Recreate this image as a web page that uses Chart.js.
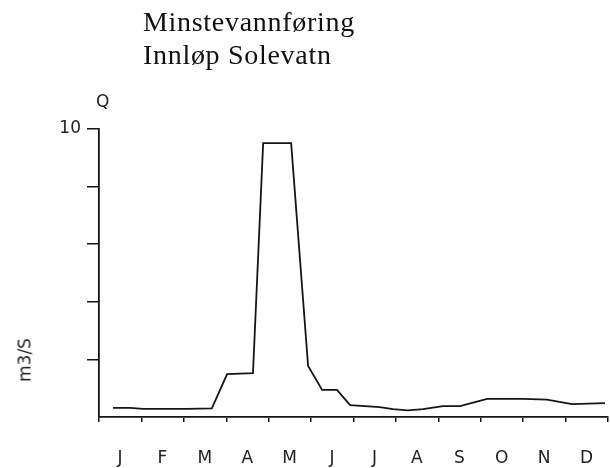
<!DOCTYPE html>
<html>
<head>
<meta charset="utf-8">
<script src="https://cdn.jsdelivr.net/npm/chart.js@4"></script>
<style>
  html, body { margin: 0; padding: 0; background: #fff; }
  #wrap { position: relative; width: 610px; height: 468px; }
  #chart { position: absolute; left: 0; top: 0; }
  .title { position: absolute; left: 143px; font-family: "Liberation Serif", serif; font-size: 28px; line-height: 28px; letter-spacing: 0.7px; color: #111; white-space: nowrap; }
  .lbl { position: absolute; font-family: "DejaVu Sans", sans-serif; font-size: 17px; line-height: 17px; color: #222; white-space: nowrap; }
</style>
</head>
<body>
<div id="wrap">
  <canvas id="chart" width="610" height="468"></canvas>
  <div class="title" style="top:8px">Minstevannføring</div>
  <div class="title" style="top:41px">Innløp Solevatn</div>
  <div class="lbl" style="left:96px; top:93px">Q</div>
  <div class="lbl" style="left:25px; top:360px; transform: translate(-50%, -50%) rotate(-90deg)">m3/S</div>
</div>
<script>
// month labels under the x axis
const months = ['J', 'F', 'M', 'A', 'M', 'J', 'J', 'A', 'S', 'O', 'N', 'D'];

// time position in months (0 = 1 Jan, 12 = 31 Dec) and flow in m3/s
const timeMonths = [0.33, 0.73, 1.04, 2.07, 2.66, 3.02, 3.63, 3.87, 4.53, 4.93, 5.26, 5.61, 5.92, 6.62, 6.93, 7.28, 7.64, 8.11, 8.51, 9.15, 9.99, 10.56, 11.15, 11.93];
const flow = [0.32, 0.32, 0.28, 0.28, 0.3, 1.49, 1.52, 9.51, 9.51, 1.77, 0.94, 0.94, 0.41, 0.34, 0.27, 0.23, 0.27, 0.38, 0.38, 0.63, 0.63, 0.6, 0.45, 0.48];

// y axis ticks, only the top one is labelled
const yTicks = [0, 2, 4, 6, 8, 10];
const yLabelled = [10];

const ink = '#151515';
const tickFont = { family: 'DejaVu Sans', size: 17 };

function renderChart() {
  const ctx = document.getElementById('chart');
  new Chart(ctx, {
    type: 'line',
    data: {
      datasets: [{
        data: timeMonths.map((t, i) => ({ x: t, y: flow[i] })),
        borderColor: ink,
        borderWidth: 1.8,
        pointRadius: 0,
        tension: 0,
        fill: false
      }]
    },
    options: {
      responsive: false,
      animation: false,
      layout: { padding: { top: 129, right: 2, left: 0, bottom: 0 } },
      plugins: { legend: { display: false }, tooltip: { enabled: false }, title: { display: false } },
      scales: {
        x: {
          type: 'linear',
          min: 0,
          max: 12,
          afterFit: s => { s.height = 51; s.paddingLeft = 0; s.paddingRight = 0; },
          afterBuildTicks: s => { s.ticks = months.map((m, i) => ({ value: i })).concat([{ value: 12 }]); },
          border: { color: ink, width: 1.8 },
          grid: { drawOnChartArea: false, color: ink, lineWidth: 1.5, tickLength: 5 },
          ticks: {
            color: '#222',
            font: tickFont,
            padding: 26,
            labelOffset: 21,
            maxRotation: 0,
            autoSkip: false,
            callback: v => months[v] || ''
          }
        },
        y: {
          min: 0,
          max: 10,
          afterFit: s => { s.width = 99; s.paddingTop = 0; s.paddingBottom = 0; },
          afterBuildTicks: s => { s.ticks = yTicks.map(v => ({ value: v })); },
          border: { color: ink, width: 1.8 },
          grid: {
            drawOnChartArea: false,
            tickLength: 12,
            lineWidth: 1.5,
            color: c => (c.tick && c.tick.value === 0 ? 'rgba(0,0,0,0)' : ink)
          },
          ticks: {
            color: '#222',
            font: tickFont,
            padding: 6,
            callback: v => (yLabelled.includes(v) ? String(v) : '')
          }
        }
      }
    }
  });
}

renderChart();
</script>
</body>
</html>
